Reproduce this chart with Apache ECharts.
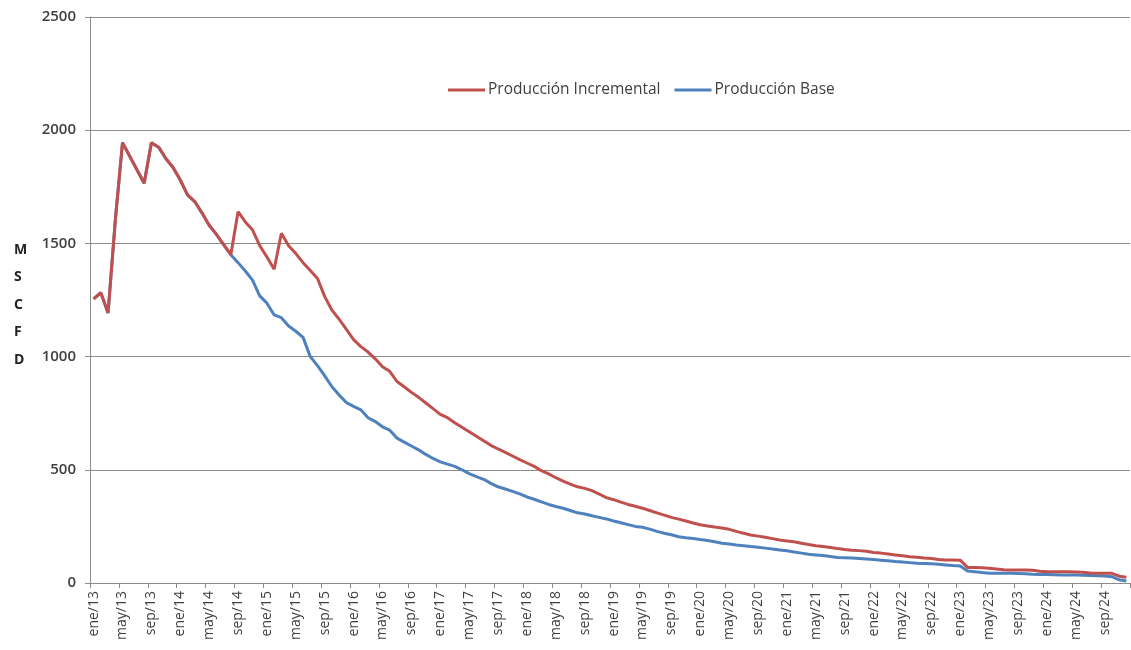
<!DOCTYPE html>
<html>
<head>
<meta charset="utf-8">
<script src="https://cdn.jsdelivr.net/npm/echarts@6/dist/echarts.min.js"></script>
<style>html,body{margin:0;padding:0;background:#fff;}#c{width:1131px;height:650px;}</style>
</head>
<body>
<div id="c"></div>
<script>
const monthNames = ['ene','feb','mar','abr','may','jun','jul','ago','sep','oct','nov','dic'];
const years = ['13','14','15','16','17','18','19','20','21','22','23','24'];
const yTicks = [0, 500, 1000, 1500, 2000, 2500];
const seriesNames = ['Producción Incremental', 'Producción Base'];
const yAxisTitle = 'M\nS\nC\nF\nD';

const incremental = [
1255,1282,1193,1600,1945,1885,1825,1766,1945,1925,1875,1835,
1780,1714,1685,1635,1580,1540,1495,1450,1640,1595,1560,1490,
1440,1386,1545,1490,1455,1415,1380,1345,1265,1205,1165,1120,
1075,1044,1020,990,955,935,890,867,842,820,795,770,
745,730,708,688,668,648,628,608,592,577,561,545,
530,515,496,482,465,450,437,425,418,408,393,377,
368,357,347,339,330,320,310,300,290,282,274,265,
257,252,247,243,237,228,220,212,207,202,196,190,
186,182,176,170,165,161,157,152,148,145,143,140,
135,132,128,124,120,116,114,110,108,104,102,102,
101,69,68,67,65,62,59,57,57,57,56,52,
50,50,50,50,49,47,44,43,43,43,30,25
];

const base = [
1255,1282,1193,1600,1945,1885,1825,1766,1945,1925,1875,1835,
1780,1714,1685,1635,1580,1540,1495,1450,1415,1378,1338,1268,
1236,1184,1172,1135,1112,1085,1000,960,915,867,830,797,
780,765,730,713,690,675,640,622,605,588,568,550,
535,525,515,500,483,470,458,440,425,415,405,394,
380,370,358,347,338,330,320,310,305,297,290,283,
274,266,258,250,246,238,228,220,213,204,200,197,
192,188,182,176,172,168,165,161,158,154,150,146,
142,137,132,127,124,121,117,113,112,110,108,106,
104,101,98,95,93,90,87,86,85,83,80,77,
75,53,50,46,43,43,43,43,42,41,39,38,
37,36,35,35,35,34,33,32,31,28,14,9
];

const categories = [];
years.forEach(y => monthNames.forEach(m => categories.push(m + '/' + y)));

const gridColor = '#8c8c8c';
const textColor = '#404040';
const chart = echarts.init(document.getElementById('c'), null, {renderer: 'canvas'});
chart.setOption({
  animation: false,
  backgroundColor: '#ffffff',
  grid: {left: 90, right: 1, top: 17, bottom: 67, containLabel: false},
  legend: {
    data: seriesNames.map(n => ({name: n, icon: 'rect'})),
    left: 448, top: 82, padding: 0,
    itemWidth: 37, itemHeight: 3, itemGap: 14,
    textStyle: {fontFamily: 'Open Sans', fontSize: 15.5, color: textColor, padding: [0,0,0,-2]}
  },
  xAxis: {
    type: 'category',
    data: categories,
    boundaryGap: true,
    axisLine: {lineStyle: {color: gridColor, width: 1}},
    axisTick: {show: true, interval: 3, length: 5, lineStyle: {color: gridColor}},
    axisLabel: {interval: 3, rotate: 90, margin: 8, fontFamily: 'Open Sans', fontSize: 14, color: textColor},
    splitLine: {show: false}
  },
  yAxis: {
    type: 'value',
    min: yTicks[0], max: yTicks[yTicks.length - 1], interval: 500,
    axisLine: {show: true, lineStyle: {color: gridColor, width: 1}},
    axisTick: {show: true, length: 5, lineStyle: {color: gridColor}},
    axisLabel: {margin: 14, fontFamily: 'Open Sans', fontSize: 15, fontWeight: 600, color: textColor,
      formatter: v => String(v)},
    splitLine: {show: true, lineStyle: {color: gridColor, width: 1}}
  },
  graphic: [{
    type: 'text', left: 14, top: 236,
    style: {text: yAxisTitle, fontFamily: 'Open Sans', fontSize: 14, fontWeight: 'bold', fill: '#222', lineHeight: 27.5, align: 'center'}
  }],
  series: [
    {name: seriesNames[0], type: 'line', data: incremental, showSymbol: false, z: 3,
     lineStyle: {color: '#C0504D', width: 3}, itemStyle: {color: '#C0504D'}},
    {name: seriesNames[1], type: 'line', data: base, showSymbol: false, z: 2,
     lineStyle: {color: '#4F81BD', width: 3}, itemStyle: {color: '#4F81BD'}}
  ]
});
</script>
</body>
</html>
